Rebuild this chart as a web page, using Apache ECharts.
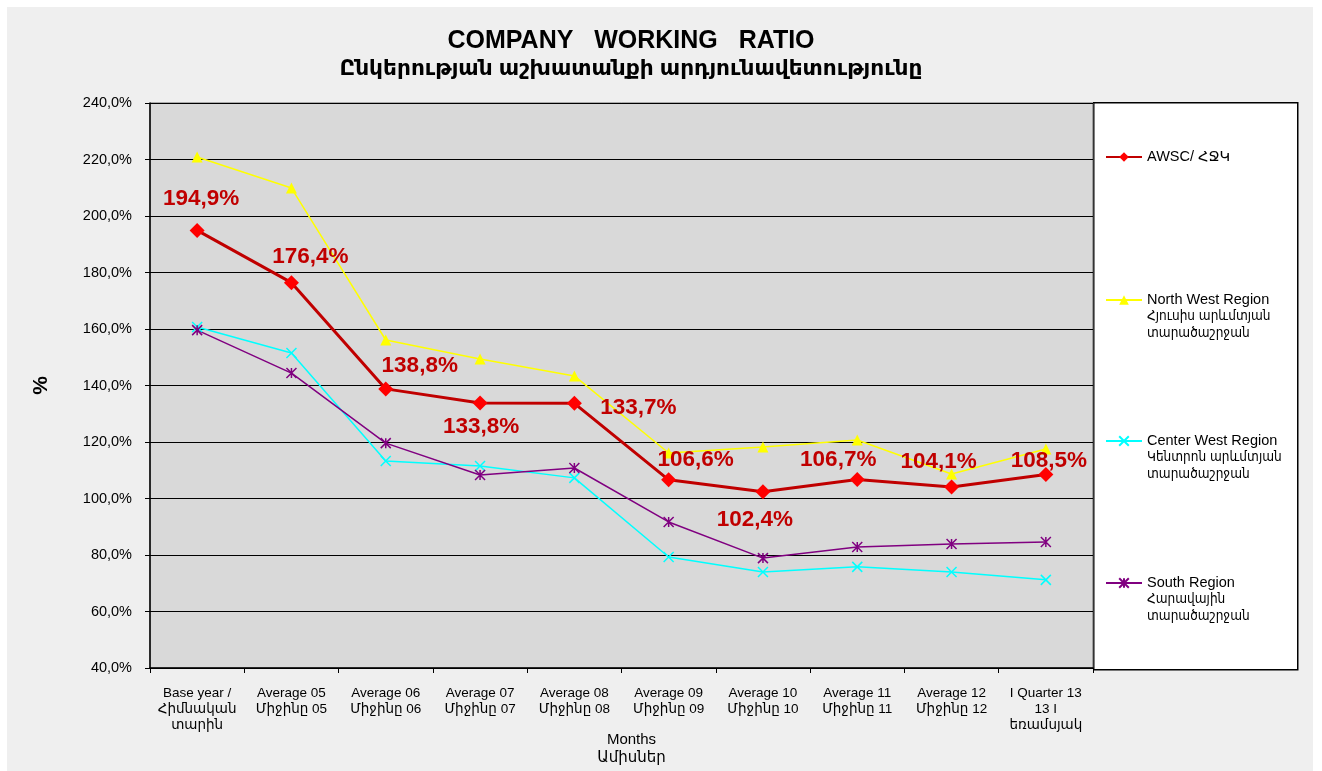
<!DOCTYPE html>
<html>
<head>
<meta charset="utf-8">
<title>Company working ratio</title>
<script src="https://cdn.jsdelivr.net/npm/echarts@6/dist/echarts.min.js"></script>
<style>
  html, body { margin: 0; padding: 0; background: #ffffff; }
  #main {
    position: absolute; left: 7px; top: 7px;
    width: 1306px; height: 764px;
  }
</style>
</head>
<body>
<div id="main"></div>
<script>
// categories (x axis)
var months = [
  "Base year /\nՀիմնական\nտարին",
  "Average 05\nՄիջինը 05",
  "Average 06\nՄիջինը 06",
  "Average 07\nՄիջինը 07",
  "Average 08\nՄիջինը 08",
  "Average 09\nՄիջինը 09",
  "Average 10\nՄիջինը 10",
  "Average 11\nՄիջինը 11",
  "Average 12\nՄիջինը 12",
  "I Quarter 13\n13 I\nեռամսյակ"
];

var seriesNames = [
  "AWSC/ ՀՋԿ",
  "North West Region\nՀյուսիս արևմտյան\nտարածաշրջան",
  "Center West Region\nԿենտրոն արևմտյան\nտարածաշրջան",
  "South Region\nՀարավային\nտարածաշրջան"
];

// values, %
var awsc      = [194.9, 176.4, 138.8, 133.8, 133.7, 106.6, 102.4, 106.7, 104.1, 108.5];
var northWest = [220.9, 209.9, 156.1, 149.4, 143.4, 116.1, 118.2, 120.7, 108.7, 117.5];
var centerWest= [160.7, 151.5, 113.3, 111.5, 107.3, 79.3, 74.0, 75.8, 74.0, 71.2];
var south     = [159.6, 144.4, 119.6, 108.3, 110.8, 91.7, 78.9, 82.8, 83.9, 84.6];

// where each AWSC label sits relative to its point (px)
var labelOffsets = [[4, -32], [19, -26], [34, -23], [1, 24], [64, 4],
                    [27, -20], [-8, 28], [-19, -20], [-13, -25], [3, -14]];

var FONT = 'Arial, "Liberation Sans", "DejaVu Sans", sans-serif';
var FONT_NARROW = 'Arial, "Liberation Sans", "DejaVu Sans Condensed", "DejaVu Sans", sans-serif';

function pct(v) {
  return v.toFixed(1).replace('.', ',') + '%';
}

var chart = echarts.init(document.getElementById('main'));

// one legend per series so they can be spread like the original,
// a spacer line on top keeps the symbol level with the first text line
var legendCenters = [150, 293, 434, 576];
var LH = 16.5;
var legends = seriesNames.map(function (name, i) {
  var lines = name.split('\n');
  var sp = (lines.length - 1) * LH;
  var blockH = sp + lines.length * LH;
  return {
    data: [name],
    left: 1098,
    top: legendCenters[i] - blockH / 2,
    padding: 0,
    itemWidth: 36,
    itemHeight: 12,
    itemGap: 0,
    selectedMode: false,
    formatter: function () {
      var out = lines.map(function (l, k) {
        return (k === 0 ? '{en|' : '{hy|') + l + '}';
      }).join('\n');
      return lines.length > 1 ? '{sp| }\n' + out : out;
    },
    textStyle: {
      fontFamily: FONT,
      fontSize: 14,
      color: '#000',
      lineHeight: LH,
      rich: {
        sp: { fontSize: 4, lineHeight: sp || 1, height: sp || 1 },
        en: { fontFamily: FONT, fontSize: 14.5, lineHeight: LH, color: '#000' },
        hy: { fontFamily: FONT_NARROW, fontSize: 13.5, lineHeight: LH, color: '#000' }
      }
    }
  };
});

var option = {
  backgroundColor: '#efefef',
  animation: false,
  textStyle: { fontFamily: FONT },
  title: {
    text: 'COMPANY   WORKING   RATIO',
    subtext: 'Ընկերության աշխատանքի արդյունավետությունը',
    left: 624,
    textAlign: 'center',
    top: 22,
    padding: 0,
    itemGap: 4,
    textStyle: { fontFamily: FONT, fontSize: 25, fontWeight: 'bold', color: '#000' },
    subtextStyle: { fontFamily: FONT, fontSize: 21.7, fontWeight: 'bold', color: '#000' }
  },
  legend: legends,
  graphic: [{
    type: 'rect',
    left: 1086,
    top: 95,
    shape: { width: 204, height: 567 },
    style: { fill: '#ffffff', stroke: '#000', lineWidth: 1.5 },
    z: -1
  }],
  grid: {
    left: 143,
    right: 220,
    top: 96,
    bottom: 103,
    outerBoundsMode: 'none',
    containLabel: false,
    show: true,
    backgroundColor: '#d9d9d9',
    borderColor: '#666',
    borderWidth: 1
  },
  xAxis: {
    type: 'category',
    data: months,
    boundaryGap: true,
    name: 'Months\nԱմիսներ',
    nameLocation: 'middle',
    nameGap: 63,
    nameMoveOverlap: false,
    nameTextStyle: { fontFamily: FONT, fontSize: 15, color: '#000', lineHeight: 18, padding: [0, 0, 0, 20] },
    axisLine: { show: true, lineStyle: { color: '#000', width: 1.5 } },
    axisTick: { show: true, alignWithLabel: false, length: 5, lineStyle: { color: '#000' } },
    axisLabel: {
      interval: 0,
      margin: 17,
      fontFamily: FONT,
      fontSize: 13.5,
      color: '#000',
      lineHeight: 16
    },
    splitLine: { show: false }
  },
  yAxis: {
    type: 'value',
    min: 40,
    max: 240,
    interval: 20,
    name: '%',
    nameLocation: 'middle',
    nameGap: 98,
    nameRotate: 90,
    nameTextStyle: { fontFamily: FONT, fontSize: 21, fontWeight: 'bold', color: '#000' },
    axisLine: { show: true, lineStyle: { color: '#000', width: 1.5 } },
    axisTick: { show: true, inside: false, length: 5, lineStyle: { color: '#000' } },
    axisLabel: {
      margin: 18,
      fontFamily: FONT,
      fontSize: 14.5,
      color: '#000',
      formatter: pct
    },
    splitLine: { show: true, lineStyle: { color: '#000', width: 1.2 } }
  },
  series: [
    {
      name: seriesNames[0],
      type: 'line',
      data: awsc.map(function (v, i) {
        return { value: v, label: { offset: labelOffsets[i] } };
      }),
      symbol: 'diamond',
      symbolSize: 15,
      z: 5,
      lineStyle: { color: '#c00000', width: 3 },
      itemStyle: { color: '#ff0000' },
      label: {
        show: true,
        position: 'inside',
        fontFamily: FONT,
        fontSize: 22.5,
        fontWeight: 'bold',
        color: '#c00000',
        formatter: function (p) { return pct(p.value); }
      }
    },
    {
      name: seriesNames[1],
      type: 'line',
      data: northWest,
      symbol: 'triangle',
      symbolSize: 11,
      lineStyle: { color: '#ffff00', width: 1.5 },
      itemStyle: { color: '#ffff00' }
    },
    {
      name: seriesNames[2],
      type: 'line',
      data: centerWest,
      symbol: 'path://M0,0L10,10M10,0L0,10',
      symbolSize: 10,
      lineStyle: { color: '#00ffff', width: 1.5 },
      itemStyle: { color: '#00ffff', borderColor: '#00ffff', borderWidth: 1.5 }
    },
    {
      name: seriesNames[3],
      type: 'line',
      data: south,
      symbol: 'path://M0,0L10,10M10,0L0,10M5,0L5,10',
      symbolSize: 10,
      lineStyle: { color: '#800080', width: 1.5 },
      itemStyle: { color: '#800080', borderColor: '#800080', borderWidth: 1.5 }
    }
  ]
};

chart.setOption(option);
</script>
</body>
</html>
